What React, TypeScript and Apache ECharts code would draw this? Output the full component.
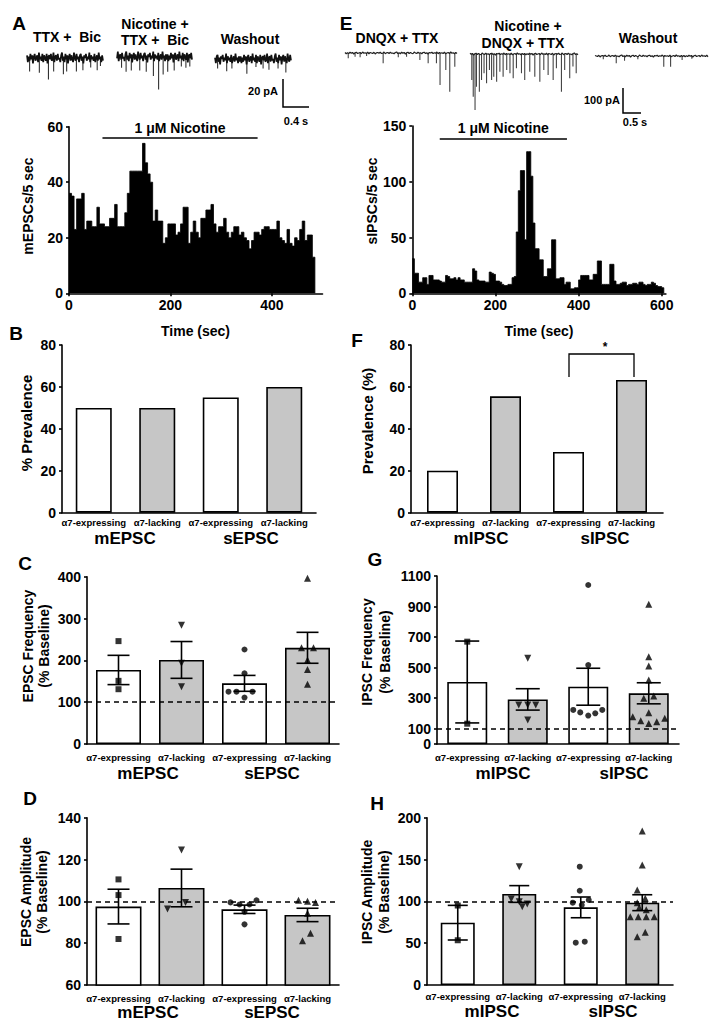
import React, { useEffect, useRef } from "react";
import * as echarts from "echarts";

// ---------------- DATA ----------------
const BIN_SEC = 5;
// Panel A: mEPSCs per 5-s bin
const mepscPerBin = [
  36, 35, 23, 34, 34, 36, 23, 26, 26, 24,
  24, 31, 25, 25, 24, 24, 27, 27, 32, 24,
  24, 24, 29, 36, 44, 44, 44, 44, 44, 54,
  47, 43, 40, 26, 30, 26, 26, 18, 20, 25,
  25, 25, 21, 22, 25, 31, 31, 18, 22, 26,
  22, 20, 27, 27, 30, 30, 32, 25, 22, 24,
  24, 27, 22, 20, 22, 24, 24, 21, 22, 20,
  19, 16, 19, 22, 22, 21, 23, 24, 24, 23,
  23, 23, 26, 20, 19, 18, 23, 18, 17, 20,
  19, 23, 26, 19, 21, 21, 13,
];
// Panel E: sIPSCs per 5-s bin
const sipscPerBin = [
  31, 18, 18, 10, 10, 14, 14, 8, 16, 16,
  12, 12, 12, 11, 10, 10, 16, 15, 13, 13,
  14, 12, 14, 12, 12, 10, 10, 10, 10, 22,
  20, 12, 11, 11, 11, 10, 10, 19, 18, 17,
  11, 11, 10, 8, 7, 7, 8, 8, 14, 15,
  55, 92, 110, 110, 48, 127, 127, 105, 63, 40,
  40, 30, 30, 15, 15, 22, 22, 48, 48, 13,
  13, 14, 14, 8, 10, 10, 4, 4, 5, 5,
  12, 16, 16, 16, 16, 12, 12, 17, 17, 29,
  29, 8, 8, 8, 8, 26, 26, 11, 8, 8,
  9, 10, 10, 7, 8, 8, 9, 9, 8, 10,
  10, 8, 7, 8, 8, 10, 9, 7, 6, 6, 5,
];
const nicotineWindowSec = [66, 372];
const histTicksA = [0, 200, 400];
const histTicksE = [0, 200, 400, 600];

// Example current traces (pA): baseline noise and events [time s, amplitude pA]
const traceNoise = [
  2, -3, 1, -2, 3, -1, 2, -4, 1, 3,
  -2, 0, 2, -3, 4, -1, 1, -2, 3, -3,
  2, 0, -2, 3, -4, 1, 2, -1, 3, -2,
  -1, 4, -3, 1, 2, -2, 3, -1, 0, -3,
  2, 4, -2, 1, -3, 3, -1, 2, -4, 1,
  3, -2, 2, -1, -3, 4, 0, -2, 3, -1,
  1, -3, 2, 3, -2, 1, -4, 2, 0, 3,
  -2, 1, -1, 4, -3, 2, -1, 1, -2, 3,
  -3, 0, 2, -2, 4, -1, 1, -3, 2, -2,
];
const eventsTtxBic = [[0.04, 10], [0.19, 11], [0.33, 16], [0.41, 10], [0.56, 12], [0.61, 10], [0.76, 10], [0.86, 9], [0.98, 7], [1.08, 9], [1.13, 6]];
const eventsNicTtxBic = [[0.07, 8], [0.14, 11], [0.22, 10], [0.35, 10], [0.45, 11], [0.56, 14], [0.64, 24], [0.71, 13], [0.78, 11], [0.88, 10], [0.99, 7], [1.06, 8], [1.12, 7]];
const eventsWashA = [[0.04, 7], [0.18, 9], [0.26, 7], [0.49, 11], [0.63, 6], [0.74, 7], [0.83, 8], [0.97, 7], [1.09, 10]];
const eventsDnqxTtx = [[0.09, 21], [0.28, 15], [0.42, 17], [0.6, 12], [1.06, 41], [1.48, 17], [1.71, 15], [2.08, 28], [2.31, 41], [2.54, 41], [2.64, 128], [2.8, 68], [2.91, 155], [3.05, 55]];
const eventsNicDnqxTtx = [[0.05, 104], [0.09, 171], [0.14, 224], [0.18, 131], [0.26, 151], [0.32, 104], [0.39, 77], [0.46, 117], [0.54, 64], [0.6, 104], [0.66, 91], [0.74, 111], [0.83, 71], [0.92, 91], [1.02, 64], [1.11, 77], [1.2, 97], [1.29, 57], [1.43, 77], [1.52, 104], [1.66, 71], [1.8, 91], [1.94, 111], [2.05, 64], [2.17, 84], [2.31, 104], [2.4, 57], [2.54, 151], [2.63, 64], [2.77, 97], [2.86, 50], [2.95, 77]];
const eventsWashE = [[0.23, 13], [0.59, 29], [0.82, 19], [1.19, 13], [1.91, 43], [2.1, 43], [2.42, 16], [2.69, 11]];

const cellTypes = ["\u03b17-expressing", "\u03b17-lacking", "\u03b17-expressing", "\u03b17-lacking"];
const groupsEPSC = ["mEPSC", "sEPSC"];
const groupsIPSC = ["mIPSC", "sIPSC"];

const prevalenceEPSC = [50, 50, 55, 60];
const prevalenceIPSC = [20, 55.5, 29, 63.3];

const epscFreqMean = [177, 201, 145, 230];
const epscFreqSem = [35, 44, 19, 37];
const epscFreqPoints = [[246, 151, 131], [284, 193, 137], [226, 169, 125, 125, 111, 125], [396, 230, 230, 201, 178, 143]];

const ipscFreqMean = [406, 292, 375, 332];
const ipscFreqSem = [268, 70, 121, 69];
const ipscFreqPoints = [[670, 133], [561, 255, 255, 255, 157], [1041, 517, 223, 207, 186, 201, 223], [915, 572, 511, 419, 314, 299, 205, 179, 168, 153, 146, 135]];
const ipscFreqTicks = [0, 100, 300, 500, 700, 900, 1100];

const epscAmpMean = [97.5, 106.4, 96.2, 93.5];
const epscAmpSem = [8.3, 9, 2.0, 3.2];
const epscAmpPoints = [[110.5, 103, 82], [124.5, 96.3, 99.5], [99.5, 98.5, 98.5, 100.5, 95, 89], [100.5, 100, 99.5, 94.3, 84.7, 81.2]];

const ipscAmpMean = [74.5, 108.8, 92.8, 98.4];
const ipscAmpSem = [20.7, 10, 12.4, 9.5];
const ipscAmpPoints = [[95, 53.5], [141.4, 102.8, 99.6, 96.8, 93.6], [141.4, 112.7, 98.4, 101.6, 95.6, 50.6, 51.8], [184, 143.4, 113.5, 103.6, 98.4, 92.6, 90, 81.7, 81.7, 81.7, 81.7, 63, 57.8]];

const BASELINE_PCT = 100;

// ---------------- LAYOUT / STYLE ----------------
const FONT = '"Liberation Sans", Arial, sans-serif';
const GRAY = "#c6c6c6";
const BAR_FILLS = ["#ffffff", GRAY, "#ffffff", GRAY];
const SYMBOLS = ["rect", "triangle", "circle", "triangle"];
const SYMBOL_ROT = [0, 180, 0, 0];
const SYMBOL_SIZE = [6, 7, 6, 7];

const JIT_C = [[0, 0, 0], [0, 0, 0], [0, 0, -16, -8, 0, 8], [0, -6, 6, 0, 0, 0]];
const JIT_G = [[0, 0], [0, -9, 0, 8, 0], [0, 0, -15, -8, 0, 7, 14], [0, 0, 0, 0, 5, -5, 0, -16, 16, -8, 8, 0]];
const JIT_D = [[0, 0, 0], [0, -14, 4], [-14, -5, 5, 12, 0, 0], [-9, 0, 8, 0, 3, -5]];
const JIT_H = [[0, 0], [0, -8, 0, 8, 3], [-1, -1, -8, 8, 1, -5, 4], [0, 0, -5, 3, -5, -3, 4, -12, -4, 4, 12, 3, -5]];

const axisLine = { show: true, lineStyle: { color: "#000", width: 1.6 } };
const axisTick = { show: true, length: 3, inside: false, lineStyle: { color: "#000", width: 1.6 } };
const tickLabel = (margin: number, size = 14) => ({
  fontFamily: FONT, fontWeight: "bold", fontSize: size, color: "#000", margin,
  formatter: (v: any) => String(v),
});

function txt(text: string, x: number, y: number, size: number, opts: any = {}) {
  const align = opts.align || "center";
  return {
    type: "text",
    x, y,
    rotation: opts.rotation || 0,
    silent: true,
    z: 100,
    style: {
      text,
      font: `bold ${size}px ${FONT}`,
      fill: "#000",
      align, verticalAlign: "middle",
      textAlign: align, textVerticalAlign: "middle",
      lineHeight: opts.lineHeight || size + 2,
    },
  };
}
function poly(points: number[][], width = 1.5) {
  return { type: "polyline", silent: true, z: 100, shape: { points }, style: { stroke: "#000", lineWidth: width, fill: null } };
}

function buildOption() {
  const grid: any[] = [];
  const xAxis: any[] = [];
  const yAxis: any[] = [];
  const series: any[] = [];
  const graphic: any[] = [];

  const addGrid = (g: any) => { grid.push({ ...g, containLabel: false }); return grid.length - 1; };

  // ---- histograms (filled step outline of the 5-s bins) ----
  const hist = (g: any, counts: number[], xMax: number, xTicks: number[], yMax: number, yInt: number, nicY: number) => {
    const gi = addGrid(g);
    xAxis.push({ type: "value", gridIndex: gi, min: 0, max: xMax, axisLine, axisTick: { ...axisTick, customValues: xTicks }, axisLabel: { ...tickLabel(5), customValues: xTicks }, splitLine: { show: false } });
    const xi = xAxis.length - 1;
    yAxis.push({ type: "value", gridIndex: gi, min: 0, max: yMax, interval: yInt, axisLine, axisTick, axisLabel: tickLabel(6), splitLine: { show: false } });
    const yi = yAxis.length - 1;
    const steps = counts.map((c, i) => [i * BIN_SEC, c]);
    steps.push([counts.length * BIN_SEC, counts[counts.length - 1]]);
    steps.push([counts.length * BIN_SEC, 0]);
    series.push({
      type: "line", xAxisIndex: xi, yAxisIndex: yi, step: "end", symbol: "none", silent: true,
      lineStyle: { color: "#000", width: 0.8 },
      areaStyle: { color: "#000", opacity: 1 },
      data: steps,
      z: 2,
      markLine: {
        silent: true, symbol: ["none", "none"],
        lineStyle: { color: "#000", width: 1.5, type: "solid" },
        label: { show: true, position: "insideMiddleTop", distance: 3, formatter: "1 \u03bcM Nicotine", fontFamily: FONT, fontWeight: "bold", fontSize: 14, color: "#000" },
        data: [[{ coord: [nicotineWindowSec[0], nicY] }, { coord: [nicotineWindowSec[1], nicY] }]],
      },
    });
  };
  hist({ left: 69, top: 126.7, width: 253.5, height: 166.6 }, mepscPerBin, 500, histTicksA, 60, 20, 55.9);
  hist({ left: 412.3, top: 126, width: 253.6, height: 167.3 }, sipscPerBin, 610, histTicksE, 150, 50, 139);

  // ---- traces ----
  const trace = (left: number, width: number, baseY: number, pxPerS: number, pxPerPa: number, yMin: number, yMax: number, events: number[][], noiseShift: number, lineW: number, lineColor: string, spikeColor: string) => {
    const dur = width / pxPerS;
    const gi = addGrid({ left, width, top: baseY - yMax * pxPerPa, height: (yMax - yMin) * pxPerPa });
    xAxis.push({ type: "value", gridIndex: gi, min: 0, max: dur, show: false });
    const xi = xAxis.length - 1;
    yAxis.push({ type: "value", gridIndex: gi, min: yMin, max: yMax, show: false });
    const yi = yAxis.length - 1;
    const noise = traceNoise.slice(noiseShift).concat(traceNoise.slice(0, noiseShift));
    series.push({
      type: "line", xAxisIndex: xi, yAxisIndex: yi, symbol: "none", silent: true,
      lineStyle: { color: lineColor, width: lineW },
      data: noise.map((v, k) => [(k * dur) / (noise.length - 1), v]),
      z: 3,
    });
    series.push({
      type: "bar", xAxisIndex: xi, yAxisIndex: yi, barWidth: 1.1, silent: true,
      itemStyle: { color: spikeColor },
      data: events.map(([t, a]) => [t, -a]),
      z: 2,
    });
  };
  trace(27, 76, 58, 65, 1.35, -28, 8, eventsTtxBic, 0, 1.7, "#111", "#333");
  trace(117, 75, 57, 65, 1.35, -28, 8, eventsNicTtxBic, 30, 1.7, "#111", "#333");
  trace(215, 76, 59, 65, 1.35, -28, 8, eventsWashA, 60, 1.7, "#111", "#333");
  trace(345, 112, 53, 36, 0.25, -240, 20, eventsDnqxTtx, 0, 1.2, "#222", "#444");
  trace(470, 108, 54, 36, 0.25, -240, 20, eventsNicDnqxTtx, 45, 1.2, "#222", "#444");
  trace(595, 113, 56, 36, 0.25, -240, 20, eventsWashE, 20, 1.2, "#222", "#444");

  // ---- bar panels ----
  const barPanel = (g: any, yMin: number, yMax: number, yInt: number, means: number[], barW: number, labelMargin: number, extra: any = {}) => {
    const gi = addGrid(g);
    xAxis.push({ type: "category", gridIndex: gi, data: cellTypes, axisLine, axisTick: { show: false }, axisLabel: { ...tickLabel(labelMargin, 9.5), interval: 0 } });
    const xi = xAxis.length - 1;
    const yAx: any = { type: "value", gridIndex: gi, min: yMin, max: yMax, interval: yInt, axisLine, axisTick: { ...axisTick }, axisLabel: tickLabel(6), splitLine: { show: false } };
    if (extra.yTicks) {
      yAx.axisTick.customValues = extra.yTicks;
      yAx.axisLabel.customValues = extra.yTicks;
    }
    yAxis.push(yAx);
    const yi = yAxis.length - 1;
    series.push({
      type: "bar", xAxisIndex: xi, yAxisIndex: yi, barWidth: barW,
      data: means.map((m, i) => ({ value: m, itemStyle: { color: BAR_FILLS[i], borderColor: "#000", borderWidth: 1.6 } })),
      z: 2,
    });
    if (extra.sems) {
      const cap = extra.cap || 22;
      series.push({
        type: "custom", xAxisIndex: xi, yAxisIndex: yi, silent: true, z: 5,
        encode: { x: 0, y: [1, 2] },
        data: means.map((m, i) => [i, m - extra.sems[i], m + extra.sems[i]]),
        renderItem: (params: any, api: any) => {
          const lo = api.coord([api.value(0), api.value(1)]);
          const hi = api.coord([api.value(0), api.value(2)]);
          const st = { stroke: "#000", lineWidth: 1.6 };
          const h = cap / 2;
          return {
            type: "group",
            children: [
              { type: "line", shape: { x1: lo[0], y1: lo[1], x2: hi[0], y2: hi[1] }, style: st },
              { type: "line", shape: { x1: lo[0] - h, y1: lo[1], x2: lo[0] + h, y2: lo[1] }, style: st },
              { type: "line", shape: { x1: hi[0] - h, y1: hi[1], x2: hi[0] + h, y2: hi[1] }, style: st },
            ],
          };
        },
      });
    }
    if (extra.points) {
      extra.points.forEach((pts: number[], i: number) => {
        series.push({
          type: "scatter", xAxisIndex: xi, yAxisIndex: yi, silent: true, z: 6,
          symbol: SYMBOLS[i], symbolRotate: SYMBOL_ROT[i], symbolSize: SYMBOL_SIZE[i],
          itemStyle: { color: "#000" },
          data: pts.map((v, k) => ({ value: [i, v], symbolOffset: [extra.jitter[i][k] || 0, 0] })),
          markLine: i === 0 ? {
            silent: true, symbol: ["none", "none"], label: { show: false },
            lineStyle: { color: "#000", width: 1.6, type: [5, 4] },
            data: [{ yAxis: BASELINE_PCT }],
          } : undefined,
        });
      });
    }
  };
  // B, F
  barPanel({ left: 62, top: 345, width: 254, height: 167.7 }, 0, 80, 20, prevalenceEPSC, 36, 5);
  barPanel({ left: 411, top: 345, width: 252, height: 167.7 }, 0, 80, 20, prevalenceIPSC, 31, 5);
  // C, G
  barPanel({ left: 87, top: 576.7, width: 252, height: 167.3 }, 0, 400, 100, epscFreqMean, 45, 8, { sems: epscFreqSem, points: epscFreqPoints, jitter: JIT_C });
  barPanel({ left: 437, top: 576, width: 242, height: 168 }, 0, 1100, 100, ipscFreqMean, 40, 8, { sems: ipscFreqSem, points: ipscFreqPoints, jitter: JIT_G, yTicks: ipscFreqTicks, cap: 24 });
  // D, H
  barPanel({ left: 87, top: 817.7, width: 252, height: 167.3 }, 60, 140, 20, epscAmpMean, 46, 8, { sems: epscAmpSem, points: epscAmpPoints, jitter: JIT_D });
  barPanel({ left: 427, top: 817.7, width: 246, height: 167.3 }, 0, 200, 50, ipscAmpMean, 34, 6, { sems: ipscAmpSem, points: ipscAmpPoints, jitter: JIT_H, cap: 20 });

  // ---- annotations ----
  const R = Math.PI / 2;
  graphic.push(
    txt("A", 19, 23, 19), txt("E", 346, 23, 19), txt("B", 16, 333, 19), txt("F", 357, 340, 19),
    txt("C", 25, 563, 19), txt("G", 375, 559, 19), txt("D", 30, 798, 19), txt("H", 377, 803, 19),

    txt("TTX +  Bic", 67, 37, 14), txt("Nicotine +", 155, 24, 14), txt("TTX +  Bic", 155, 40, 14), txt("Washout", 250, 39, 14),
    txt("DNQX + TTX", 397, 38, 14), txt("Nicotine +", 528, 26, 14), txt("DNQX + TTX", 523, 43, 14), txt("Washout", 648, 38, 14),

    poly([[283, 79], [283, 107], [309, 107]]), txt("20 pA", 278, 91, 11, { align: "right" }), txt("0.4 s", 296, 121, 11),
    poly([[623, 88], [623, 113], [641, 113]]), txt("100 pA", 620, 100, 11, { align: "right" }), txt("0.5 s", 635, 122, 11),

    txt("Time (sec)", 195.5, 331, 14), txt("Time (sec)", 539, 331, 14),

    txt("mEPSCs/5 sec", 28, 206, 14, { rotation: R }),
    txt("sIPSCs/5 sec", 372, 201, 14, { rotation: R }),
    txt("% Prevalence", 26, 423, 15, { rotation: R }),
    txt("Prevalence (%)", 367, 421, 15, { rotation: R }),
    txt("EPSC Frequency\n(% Baseline)", 35.5, 646, 14, { rotation: R, lineHeight: 16 }),
    txt("IPSC Frequency\n(% Baseline)", 376, 652, 14, { rotation: R, lineHeight: 18 }),
    txt("EPSC Amplitude\n(% Baseline)", 34, 892, 14, { rotation: R, lineHeight: 16 }),
    txt("IPSC Amplitude\n(% Baseline)", 375.5, 892, 14, { rotation: R, lineHeight: 17 }),

    txt(groupsEPSC[0], 125, 538, 17), txt(groupsEPSC[1], 251, 538, 17),
    txt(groupsIPSC[0], 481, 538, 17), txt(groupsIPSC[1], 605, 538, 17),
    txt(groupsEPSC[0], 148, 773, 17), txt(groupsEPSC[1], 272, 773, 17),
    txt(groupsIPSC[0], 503, 773, 17), txt(groupsIPSC[1], 624, 773, 17),
    txt(groupsEPSC[0], 148, 1012, 17), txt(groupsEPSC[1], 272, 1012, 17),
    txt(groupsIPSC[0], 492, 1011, 17), txt(groupsIPSC[1], 613, 1011, 17),

    poly([[569, 377], [569, 354], [634, 354], [634, 377]], 1.3), txt("*", 605, 347, 12),
  );

  return { animation: false, backgroundColor: "#fff", grid, xAxis, yAxis, series, graphic };
}

export default function App() {
  const ref = useRef<HTMLDivElement>(null);
  useEffect(() => {
    const chart = echarts.init(ref.current as HTMLDivElement, null, { renderer: "svg" });
    chart.setOption(buildOption() as any);
    return () => chart.dispose();
  }, []);
  return <div ref={ref} style={{ position: "absolute", left: 0, top: 0, width: 720, height: 1020, background: "#fff" }} />;
}
